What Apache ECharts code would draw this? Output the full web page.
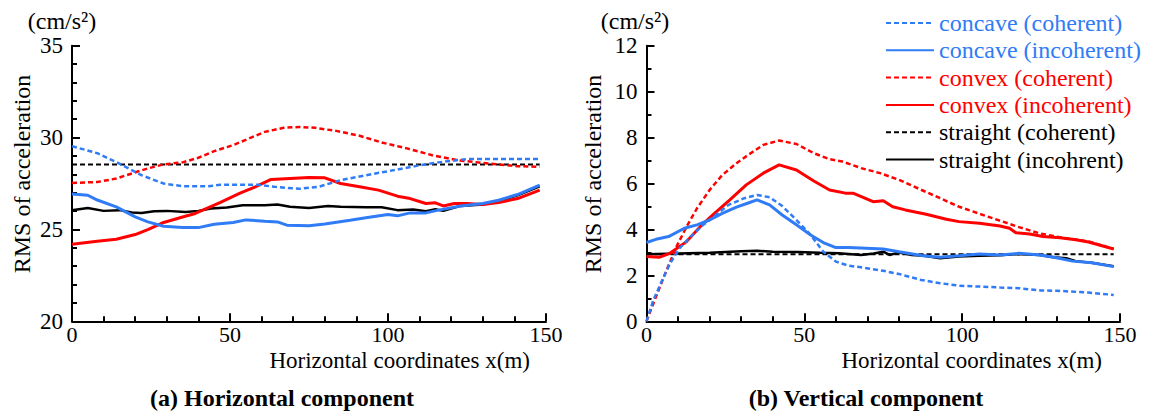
<!DOCTYPE html>
<html>
<head>
<meta charset="utf-8">
<script src="https://cdn.jsdelivr.net/npm/echarts@6/dist/echarts.min.js"></script>
<style>
html,body{margin:0;padding:0;background:#fff;}
#chart{width:1152px;height:417px;}
</style>
</head>
<body>
<div id="chart"></div>
<script>
// ---------- DATA ----------
const xTicks = [0, 50, 100, 150];
const seriesNames = ['concave (coherent)', 'concave (incoherent)', 'convex (coherent)', 'convex (incoherent)', 'straight (coherent)', 'straight (incohrent)'];

// (a) Horizontal component  [x(m), RMS cm/s^2]
const hConcaveCoh = [[0,29.53],[8,29.15],[15,28.58],[22,27.95],[29,27.5],[35,27.35],[43,27.35],[47,27.43],[59,27.43],[65,27.3],[72,27.21],[78,27.32],[85,27.68],[93,27.95],[102,28.23],[109,28.46],[116,28.65],[125,28.83],[148,28.84]];
const hConcaveInc = [[0,26.93],[5,26.86],[8,26.6],[14,26.23],[20,25.68],[24,25.41],[29,25.17],[35,25.1],[40,25.1],[45,25.28],[51,25.38],[55,25.52],[61,25.45],[65,25.41],[68,25.23],[75,25.2],[80,25.3],[88,25.5],[93,25.63],[100,25.81],[103,25.74],[107,25.9],[112,25.9],[116,26.05],[123,26.28],[130,26.41],[135,26.59],[141,26.9],[148,27.41]];
const hConvexCoh = [[0,27.53],[8,27.58],[14,27.77],[19,28.05],[24,28.32],[29,28.54],[35,28.65],[40,28.9],[45,29.26],[51,29.59],[56,29.95],[61,30.31],[67,30.53],[72,30.58],[77,30.53],[84,30.35],[91,30.1],[98,29.73],[106,29.41],[114,29.04],[122,28.77],[130,28.62],[141,28.44],[148,28.41]];
const hConvexInc = [[0,24.19],[8,24.36],[14,24.47],[20,24.72],[24,24.99],[29,25.38],[35,25.68],[39,25.87],[43,26.17],[47,26.47],[53,26.96],[58,27.32],[63,27.72],[69,27.77],[75,27.82],[80,27.81],[85,27.5],[91,27.32],[97,27.14],[103,26.81],[107,26.68],[112,26.41],[115,26.45],[117.5,26.28],[121,26.41],[125,26.41],[130,26.36],[135,26.47],[141,26.68],[148,27.14]];
const hStraightCoh = [[0,28.54],[148,28.54]];
const hStraightInc = [[0,26.05],[5,26.17],[10,26.01],[15,26.05],[19,25.92],[22,25.9],[26,25.99],[30,26.01],[36,25.95],[40,26.01],[44,26.14],[49,26.19],[54,26.32],[61,26.32],[65,26.36],[69,26.23],[75,26.17],[81,26.28],[85,26.23],[93,26.21],[98,26.21],[103,26.05],[108,26.08],[112,25.99],[115,26.1],[117.5,26.01],[123,26.28],[130,26.36],[135,26.54],[141,26.86],[148,27.35]];

// (b) Vertical component
const vConcaveCoh = [[0,0],[2,0.86],[5,1.8],[7.5,2.53],[10.5,3.18],[14,3.69],[18,4.2],[22,4.63],[26,5.07],[31,5.36],[35,5.5],[39,5.4],[43,5.02],[47.5,4.41],[52,3.76],[56,3.03],[60,2.6],[64,2.42],[68,2.35],[75,2.2],[80,2.06],[87,1.8],[93,1.66],[99,1.55],[106,1.51],[112,1.47],[118,1.44],[125,1.34],[130,1.33],[140,1.25],[148,1.15]];
const vConcaveInc = [[0,3.43],[3,3.57],[7,3.69],[12,4.05],[16,4.2],[20,4.41],[24,4.7],[28.5,4.97],[32,5.14],[35,5.29],[39,5.07],[43,4.63],[47.5,4.2],[52,3.76],[56,3.43],[60,3.21],[64,3.21],[75,3.15],[80,3.03],[87.6,2.85],[93,2.79],[99,2.85],[105.5,2.93],[112,2.89],[118,2.96],[124.5,2.89],[129,2.79],[135,2.62],[141,2.55],[148,2.38]];
const vConvexCoh = [[0,0],[3,1.07],[6.4,2.24],[9.5,3.25],[12.7,4.12],[16,4.92],[20,5.72],[24,6.37],[28.5,6.88],[33,7.32],[37,7.68],[42,7.87],[47.5,7.72],[53,7.32],[58,7.06],[62,6.96],[68,6.67],[74,6.45],[80,6.16],[86.6,5.75],[93,5.36],[99,4.99],[105.5,4.68],[112,4.38],[118,4.1],[124.5,3.83],[131,3.66],[140,3.48],[148,3.15]];
const vConvexInc = [[0,2.82],[4,2.79],[7.4,2.96],[12.7,3.47],[17,4.12],[21,4.63],[26.4,5.29],[31.6,5.94],[37,6.45],[42,6.81],[47.5,6.59],[53,6.11],[58,5.72],[63,5.58],[65.4,5.58],[68.6,5.4],[71.8,5.21],[75,5.25],[78,4.99],[82,4.85],[88.6,4.66],[95,4.44],[99,4.34],[105.5,4.27],[112,4.15],[115,4.05],[117,3.86],[121.4,3.8],[125.6,3.69],[131,3.64],[136,3.55],[140,3.45],[144,3.3],[148,3.15]];
const vStraightCoh = [[0,2.92],[148,2.92]];
const vStraightInc = [[0,2.92],[10,2.95],[20,2.98],[30,3.05],[35,3.07],[40,3.03],[48,3.02],[55,2.98],[61,2.96],[64,2.93],[68,2.89],[72,2.95],[75,3.03],[77,2.89],[80,3.0],[84,2.89],[88,2.85],[93,2.74],[99,2.82],[105.5,2.85],[112,2.88],[118,2.93],[124.5,2.89],[129,2.79],[133,2.75],[136,2.62],[141,2.55],[148,2.4]];

// ---------- STYLE ----------
const FONT = '"Liberation Serif", "Times New Roman", Times, serif';
const BLUE = '#2f7cf6', RED = '#ff0000', BLACK = '#000000';
const styles = [
  {color: BLUE, width: 2.5, type: [5, 3]},
  {color: BLUE, width: 3, type: 'solid'},
  {color: RED, width: 2.5, type: [5, 3]},
  {color: RED, width: 3, type: 'solid'},
  {color: BLACK, width: 2, type: [5, 3]},
  {color: BLACK, width: 2.5, type: 'solid'}
];
const hData = [hConcaveCoh, hConcaveInc, hConvexCoh, hConvexInc, hStraightCoh, hStraightInc];
const vData = [vConcaveCoh, vConcaveInc, vConvexCoh, vConvexInc, vStraightCoh, vStraightInc];

function xAxisCfg(gi) {
  return {
    type: 'value', gridIndex: gi, min: 0, max: 150, interval: 50,
    axisLine: {show: true, lineStyle: {color: '#000', width: 2}},
    axisTick: {show: true, inside: true, length: 8, lineStyle: {color: '#000', width: 2}},
    minorTick: {show: true, splitNumber: 5, length: 5, lineStyle: {color: '#000', width: 2}},
    splitLine: {show: false},
    axisLabel: {margin: 3, color: '#000', fontFamily: FONT, fontSize: 22, lineHeight: 20,
      formatter: v => xTicks.indexOf(v) >= 0 ? String(v) : ''}
  };
}
function yAxisCfg(gi, min, max, interval, minorSplit) {
  return {
    type: 'value', gridIndex: gi, min: min, max: max, interval: interval,
    axisLine: {show: true, lineStyle: {color: '#000', width: 2}},
    axisTick: {show: true, inside: true, length: 8, lineStyle: {color: '#000', width: 2}},
    minorTick: {show: true, splitNumber: minorSplit, length: 5, lineStyle: {color: '#000', width: 2}},
    splitLine: {show: false},
    axisLabel: {margin: 9, color: '#000', fontFamily: FONT, fontSize: 23}
  };
}

const series = [];
[hData, vData].forEach((set, gi) => {
  set.forEach((d, i) => {
    series.push({
      name: seriesNames[i], type: 'line', xAxisIndex: gi, yAxisIndex: gi,
      data: d, showSymbol: false, symbol: 'none', smooth: false,
      lineStyle: {color: styles[i].color, width: styles[i].width, type: styles[i].type},
      itemStyle: {color: styles[i].color},
      z: 10 - i, animation: false
    });
  });
});

const FONT_CSS = '24px ' + FONT;
const txt = (x, y, text, opts) => ({
  type: 'text', x: x, y: y,
  style: Object.assign({text: text, fill: '#000', font: FONT_CSS, textAlign: 'center', textVerticalAlign: 'middle'}, opts || {})
});

const chart = echarts.init(document.getElementById('chart'), null, {renderer: 'svg'});
chart.setOption({
  animation: false,
  backgroundColor: '#fff',
  grid: [
    {left: 72, right: 606, top: 45.7, bottom: 95.7},
    {left: 646.5, right: 32, top: 45.7, bottom: 95.7}
  ],
  xAxis: [xAxisCfg(0), xAxisCfg(1)],
  yAxis: [yAxisCfg(0, 20, 35, 5, 5), yAxisCfg(1, 0, 12, 2, 2)],
  legend: {
    orient: 'vertical', left: 880, top: 6, itemWidth: 48, itemHeight: 14, itemGap: 3.3,
    selectedMode: false,
    itemStyle: {opacity: 0},
    textStyle: {fontFamily: FONT, fontSize: 24, lineHeight: 24},
    data: seriesNames.map((n, i) => ({name: n, textStyle: {color: styles[i].color}}))
  },
  graphic: [
    txt(62, 21, '(cm/s²)'),
    txt(635, 21, '(cm/s²)'),
    {type: 'text', x: 22, y: 174, rotation: Math.PI / 2,
      style: {text: 'RMS of acceleration', fill: '#000', font: FONT_CSS, textAlign: 'center', textVerticalAlign: 'middle'}},
    {type: 'text', x: 593, y: 174, rotation: Math.PI / 2,
      style: {text: 'RMS of acceleration', fill: '#000', font: FONT_CSS, textAlign: 'center', textVerticalAlign: 'middle'}},
    txt(530, 360, 'Horizontal coordinates x(m)', {textAlign: 'right', font: '23px ' + FONT}),
    txt(1102, 360, 'Horizontal coordinates x(m)', {textAlign: 'right', font: '23px ' + FONT}),
    txt(282, 398, '(a) Horizontal component', {font: 'bold ' + FONT_CSS}),
    txt(866, 398, '(b) Vertical component', {font: 'bold ' + FONT_CSS})
  ],
  series: series
});
</script>
</body>
</html>
